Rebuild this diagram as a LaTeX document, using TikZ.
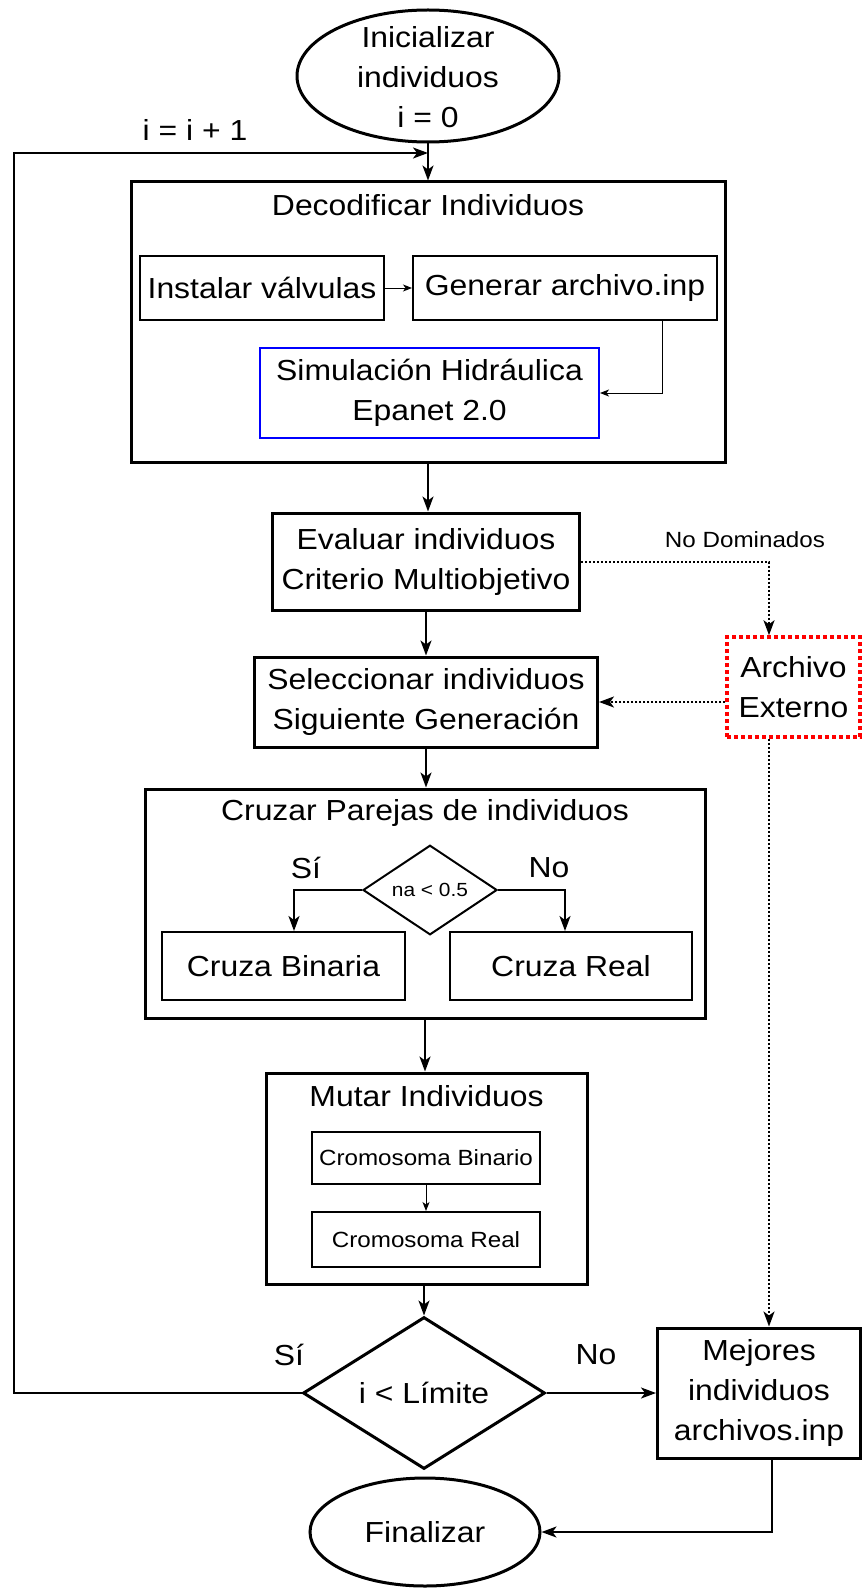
\documentclass[tikz,border=0pt]{standalone}
\usepackage{fontspec}
\setmainfont{Liberation Sans}[FakeStretch=1.1]
\usetikzlibrary{arrows.meta,shapes.geometric}
\begin{document}
\begin{tikzpicture}[x=1pt,y=-1pt,
  mainf/.style={font=\fontsize{29}{40}\selectfont},
  smallf/.style={font=\fontsize{22}{28}\selectfont},
  txt/.style={inner sep=0pt, align=center, mainf},
  box/.style={draw, line width=3pt, rectangle, inner sep=0pt, align=center, mainf},
  inbox/.style={draw, line width=2pt, rectangle, inner sep=0pt, align=center, mainf},
  ell/.style={draw, line width=3pt, ellipse, inner sep=0pt, align=center, mainf},
  dia/.style={draw, diamond, inner sep=0pt, align=center},
  conn/.style={line width=2pt, -{Stealth[length=15pt,width=11pt,inset=4pt]}},
  thinconn/.style={line width=1pt, -{Stealth[length=9pt,width=7pt,inset=2.5pt]}},
  dotconn/.style={line width=2pt, dash pattern=on 2pt off 2pt, -{Stealth[length=15pt,width=11pt,inset=4pt]}}
]
\useasboundingbox (0,0) rectangle (862,1589);

% start
\node[ell, minimum width=262pt, minimum height=132pt] (start) at (428,76) {};
\node[txt] (startT) at (428,77) {Inicializar\\individuos\\i = 0};
\node[txt] (inc) at (195,130) {i = i + 1};

% decodificar
\node[box, minimum width=594pt, minimum height=280pt] (decod) at (428,322) {};
\node[txt] (decodT) at (428,205) {Decodificar Individuos};
\node[inbox, minimum width=244pt, minimum height=64pt] (inst) at (262,288) {Instalar válvulas};
\node[inbox, minimum width=304pt, minimum height=64pt] (gen) at (565,288) {Generar archivo.inp};
\node[inbox, draw=blue, minimum width=339pt, minimum height=90pt] (sim) at (429.5,393) {Simulación Hidráulica\\Epanet 2.0};
\coordinate (gx) at (662,0);
\draw[thinconn] (inst) -- (gen);
\draw[thinconn] (gen.south -| gx) |- (sim.east);

% evaluar, seleccionar, archivo
\node[box, minimum width=307pt, minimum height=97pt] (eval) at (426,561.5) {Evaluar individuos\\Criterio Multiobjetivo};
\node[box, minimum width=343pt, minimum height=90pt] (sel) at (426,702) {Seleccionar individuos\\Siguiente Generación};
\node[box, draw=red, line width=3.5pt, dash pattern=on 4pt off 3pt, minimum width=133pt, minimum height=100pt] (arch) at (793.5,687) {Archivo\\Externo};
\node[inner sep=0pt, smallf] (nodom) at (745,540) {No Dominados};
\coordinate (ax) at (769,0);

% cruzar
\node[box, minimum width=560pt, minimum height=229pt] (cruz) at (425,903.5) {};
\node[txt] (cruzT) at (425,813) {Cruzar Parejas de individuos};
\node[dia, line width=2pt, minimum width=134pt, minimum height=77pt, font=\fontsize{19}{23}\selectfont] (na) at (430,890) {na < 0.5};
\node[txt] (si1) at (306,868) {Sí};
\node[txt] (no1) at (549,868) {No};
\node[inbox, minimum width=243pt, minimum height=68pt] (bin) at (283.5,966) {Cruza Binaria};
\node[inbox, minimum width=242pt, minimum height=68pt] (real) at (571,966) {Cruza Real};
\coordinate (bx) at (294,0);
\coordinate (rx) at (565,0);
\draw[conn] (na.west) -| (bin.north -| bx);
\draw[conn] (na.east) -| (real.north -| rx);

% mutar
\node[box, minimum width=321pt, minimum height=211pt] (mut) at (426.5,1178.5) {};
\node[txt] (mutT) at (426.5,1096) {Mutar Individuos};
\node[inbox, smallf, minimum width=228pt, minimum height=52pt] (cb) at (426,1158) {Cromosoma Binario};
\node[inbox, smallf, minimum width=228pt, minimum height=55pt] (cr) at (426,1239.5) {Cromosoma Real};
\draw[thinconn] (cb.south) -- (cr.north);

% limite
\node[dia, line width=3pt, minimum width=242pt, minimum height=131pt, mainf] (lim) at (424,1393) {i < Límite};
\node[txt] (si2) at (289,1355) {Sí};
\node[txt] (no2) at (596,1355) {No};
\node[box, minimum width=203pt, minimum height=130pt] (mej) at (759,1393) {Mejores\\individuos\\archivos.inp};
\node[ell, minimum width=230pt, minimum height=108pt] (fin) at (425,1532) {Finalizar};
\coordinate (mx) at (772,0);

% main connectors
\coordinate (join) at (428,153);
\coordinate (lft) at (14,1393);
\draw[conn] (start.south) -- (decod.north);
\draw[conn] (lim.west) -- (lft) |- (join);
\draw[conn] (decod.south) -- (decod.south |- eval.north);
\draw[conn] (eval.south) -- (eval.south |- sel.north);
\draw[conn] (sel.south) -- (sel.south |- cruz.north);
\draw[conn] (cruz.south) -- (cruz.south |- mut.north);
\draw[conn] (mut.south -| lim.north) -- (lim.north);
\draw[conn] (lim.east) -- (mej.west);
\draw[conn] (mej.south -| mx) |- (fin.east);

% dotted connectors
\draw[dotconn] (eval.east) -| (arch.north -| ax);
\draw[dotconn] (sel.east -| arch.west) -- (sel.east);
\draw[dotconn] (arch.south -| ax) -- (mej.north -| ax);
\end{tikzpicture}
\end{document}
